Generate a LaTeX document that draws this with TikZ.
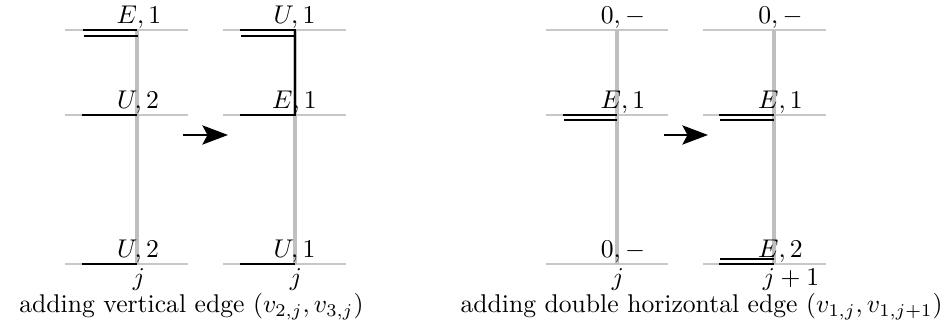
\documentclass[tikz,border=0pt]{standalone}
\usetikzlibrary{arrows.meta}
\begin{document}
\begin{tikzpicture}[x=0.39pt,y=-0.39pt,
  gridh/.style={draw=black!22,line width=0.4pt},
  gridv/.style={draw=black!25,line width=1.2pt},
  thickedge/.style={draw=black,line width=1.05pt},
  thinedge/.style={draw=black,line width=0.55pt},
  lbl/.style={anchor=base,inner sep=0pt},
  stepArrow/.style={draw=black,line width=0.8pt,-{Stealth[length=10pt,width=7.5pt,inset=2pt]}}]
\useasboundingbox (0,0) rectangle (948,326);
\def\ra{30}\def\rb{115}\def\rc{264}
% ---------- panel A ----------
\foreach \y/\n in {\ra/a1,\rb/a2,\rc/a3}{
  \coordinate (\n) at (137,\y);
  \coordinate (\n l) at (65,\y);
  \coordinate (\n r) at (188,\y);
  \draw[gridh] (\n l) -- (\n r);
}
\draw[gridv] (a1) -- (a3);
\coordinate (a1e) at (83,30);
\coordinate (a1f) at (84,36);
\coordinate (a1g) at (138,36);
\draw[thickedge] (a1e) -- (a1);
\draw[thinedge] (a1f) -- (a1g);
\coordinate (a2e) at (82,115);
\draw[thickedge] (a2e) -- (a2);
\coordinate (a3e) at (82,264);
\draw[thickedge] (a3e) -- (a3);
\node[lbl] (la1) at (139,24) {$E,1$};
\node[lbl] (la2) at (138,109) {$U,2$};
\node[lbl] (la3) at (138,258) {$U,2$};
\node[lbl] (ja) at (139,286) {$j$};
% ---------- panel B ----------
\foreach \y/\n in {\ra/b1,\rb/b2,\rc/b3}{
  \coordinate (\n) at (295,\y);
  \coordinate (\n l) at (223,\y);
  \coordinate (\n r) at (346,\y);
  \draw[gridh] (\n l) -- (\n r);
}
\draw[gridv] (b1) -- (b3);
\coordinate (b1e) at (240,30);
\coordinate (b2e) at (240,115);
\draw[thickedge,line join=miter] (b1e) -- (b1) -- (b2) -- (b2e);
\coordinate (b1f) at (241,36);
\coordinate (b1g) at (295,36);
\draw[thinedge] (b1f) -- (b1g);
\coordinate (b3e) at (240,264);
\draw[thickedge] (b3e) -- (b3);
\node[lbl] (lb1) at (294.5,24) {$U,1$};
\node[lbl] (lb2) at (294.5,109) {$E,1$};
\node[lbl] (lb3) at (294.5,258) {$U,1$};
\node[lbl] (jb) at (296,286) {$j$};
% arrow 1
\coordinate (arA) at (183,135);
\coordinate (arB) at (228,135);
\draw[stepArrow] (arA) -- (arB);
\node[lbl,anchor=base east] (capA) at (364,313) {adding vertical edge $(v_{2,j},v_{3,j})$};
% ---------- panel C ----------
\foreach \y/\n in {\ra/c1,\rb/c2,\rc/c3}{
  \coordinate (\n) at (617,\y);
  \coordinate (\n l) at (546,\y);
  \coordinate (\n r) at (668,\y);
  \draw[gridh] (\n l) -- (\n r);
}
\draw[gridv] (c1) -- (c3);
\coordinate (c2e) at (563,115);
\coordinate (c2f) at (564,120);
\coordinate (c2g) at (617,120);
\draw[thickedge] (c2e) -- (c2);
\draw[thinedge] (c2f) -- (c2g);
\node[lbl] (lc1) at (623,24) {$0,-$};
\node[lbl] (lc2) at (623,109) {$E,1$};
\node[lbl] (lc3) at (623,258) {$0,-$};
\node[lbl] (jc) at (618,286) {$j$};
% ---------- panel D ----------
\foreach \y/\n in {\ra/d1,\rb/d2,\rc/d3}{
  \coordinate (\n) at (774,\y);
  \coordinate (\n l) at (703,\y);
  \coordinate (\n r) at (826,\y);
  \draw[gridh] (\n l) -- (\n r);
}
\draw[gridv] (d1) -- (d3);
\coordinate (d2e) at (719,115);
\coordinate (d2f) at (720,120);
\coordinate (d2g) at (774,120);
\draw[thickedge] (d2e) -- (d2);
\draw[thinedge] (d2f) -- (d2g);
\coordinate (d3e) at (719,264);
\coordinate (d3f) at (720,259);
\coordinate (d3g) at (774,259);
\draw[thickedge] (d3e) -- (d3);
\draw[thinedge] (d3f) -- (d3g);
\node[lbl] (ld1) at (780.5,24) {$0,-$};
\node[lbl] (ld2) at (780.5,109) {$E,1$};
\node[lbl] (ld3) at (780.5,258) {$E,2$};
\node[lbl] (jd) at (791,286) {$j+1$};
% arrow 2
\coordinate (arC) at (664,135);
\coordinate (arD) at (708,135);
\draw[stepArrow] (arC) -- (arD);
\node[lbl,anchor=base east] (capB) at (943,313) {adding double horizontal edge $(v_{1,j},v_{1,j+1})$};
\end{tikzpicture}
\end{document}
